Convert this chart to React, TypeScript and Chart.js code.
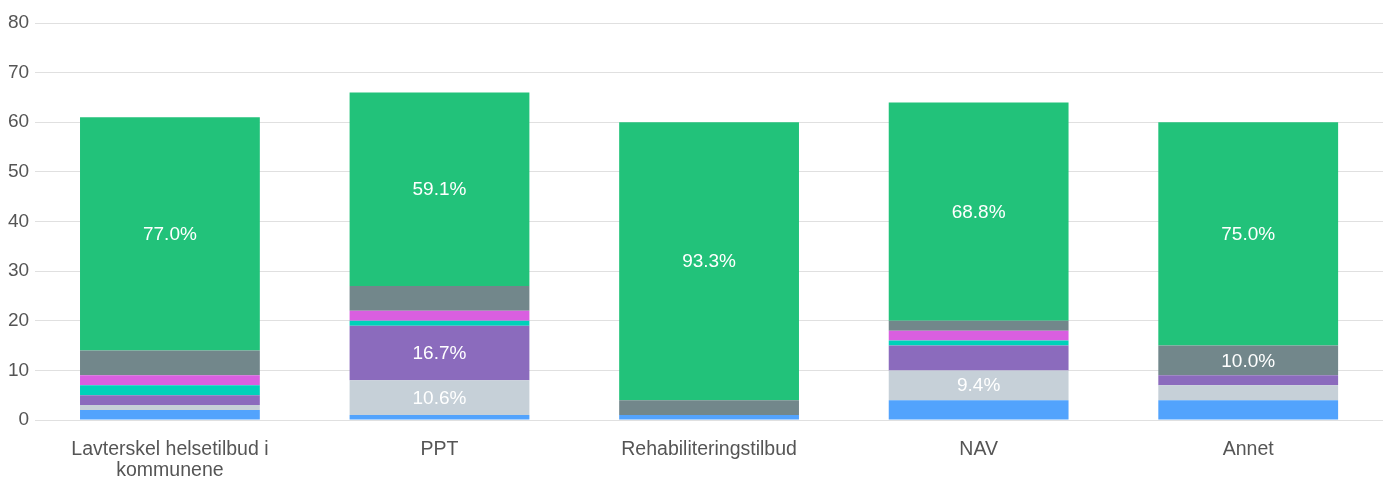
import React, { useEffect, useRef } from "react";
import { Chart, registerables } from "chart.js";

Chart.register(...registerables);

const categories: (string | string[])[] = [
  ["Lavterskel helsetilbud i", "kommunene"],
  "PPT",
  "Rehabiliteringstilbud",
  "NAV",
  "Annet",
];

const seriesBlue = [2, 1, 1, 4, 4];
const seriesLightGray = [1, 7, 0, 6, 3];
const seriesPurple = [2, 11, 0, 5, 2];
const seriesTeal = [2, 1, 0, 1, 0];
const seriesMagenta = [2, 2, 0, 2, 0];
const seriesGray = [5, 5, 3, 2, 6];
const seriesGreen = [47, 39, 56, 44, 45];

const yTicks = [0, 10, 20, 30, 40, 50, 60, 70, 80];

const seriesList = [
  { label: "A", data: seriesBlue, color: "#52a3fd" },
  { label: "B", data: seriesLightGray, color: "#c6d0d8" },
  { label: "C", data: seriesPurple, color: "#8b6bbd" },
  { label: "D", data: seriesTeal, color: "#00d1b9" },
  { label: "E", data: seriesMagenta, color: "#d95fe0" },
  { label: "F", data: seriesGray, color: "#72878b" },
  { label: "G", data: seriesGreen, color: "#22c27a" },
];

const FONT = '"Liberation Sans", Arial, sans-serif';

const percentLabels = {
  id: "percentLabels",
  afterDatasetsDraw(chart: any) {
    const ctx = chart.ctx;
    const n = chart.data.labels.length;
    const totals: number[] = [];
    for (let i = 0; i < n; i++) {
      let t = 0;
      chart.data.datasets.forEach((ds: any) => (t += ds.data[i] || 0));
      totals.push(t);
    }
    ctx.save();
    ctx.fillStyle = "#ffffff";
    ctx.font = "19px " + FONT;
    ctx.textAlign = "center";
    ctx.textBaseline = "middle";
    chart.data.datasets.forEach((ds: any, di: number) => {
      const meta = chart.getDatasetMeta(di);
      meta.data.forEach((el: any, i: number) => {
        const v = ds.data[i];
        const pct = (v / totals[i]) * 100;
        if (pct < 9) return;
        const yMid = (el.y + el.base) / 2;
        ctx.fillText(pct.toFixed(1) + "%", el.x, yMid + 1);
      });
    });
    ctx.restore();
  },
};

export default function App() {
  const ref = useRef<HTMLCanvasElement>(null);
  useEffect(() => {
    if (!ref.current) return;
    const chart = new Chart(ref.current, {
      type: "bar",
      data: {
        labels: categories as any,
        datasets: seriesList.map((s) => ({
          label: s.label,
          data: s.data,
          backgroundColor: s.color,
          borderWidth: 0,
          categoryPercentage: 1,
          barPercentage: 0.667,
        })),
      },
      options: {
        animation: false,
        responsive: true,
        maintainAspectRatio: false,
        layout: { padding: { left: 2, right: 8, top: 23, bottom: -19 } },
        plugins: {
          legend: { display: false },
          tooltip: { enabled: false },
        },
        scales: {
          x: {
            stacked: true,
            grid: { display: false, drawTicks: false },
            border: { display: false },
            ticks: {
              color: "#555555",
              font: { family: FONT, size: 19.5, lineHeight: "21px" },
              padding: 19,
              maxRotation: 0,
              autoSkip: false,
            },
          },
          y: {
            stacked: true,
            min: 0,
            max: 80,
            afterBuildTicks: (axis: any) => {
              axis.ticks = yTicks.map((v) => ({ value: v }));
            },
            grid: { color: "#e0e0e0", drawTicks: false, lineWidth: 1 },
            border: { display: false },
            ticks: {
              color: "#555555",
              font: { family: FONT, size: 19 },
              padding: 6,
            },
          },
        },
      },
      plugins: [percentLabels],
    });
    return () => chart.destroy();
  }, []);
  return (
    <div style={{ position: "fixed", left: 0, top: 0, width: 1391, height: 481 }}>
      <canvas ref={ref} />
    </div>
  );
}
